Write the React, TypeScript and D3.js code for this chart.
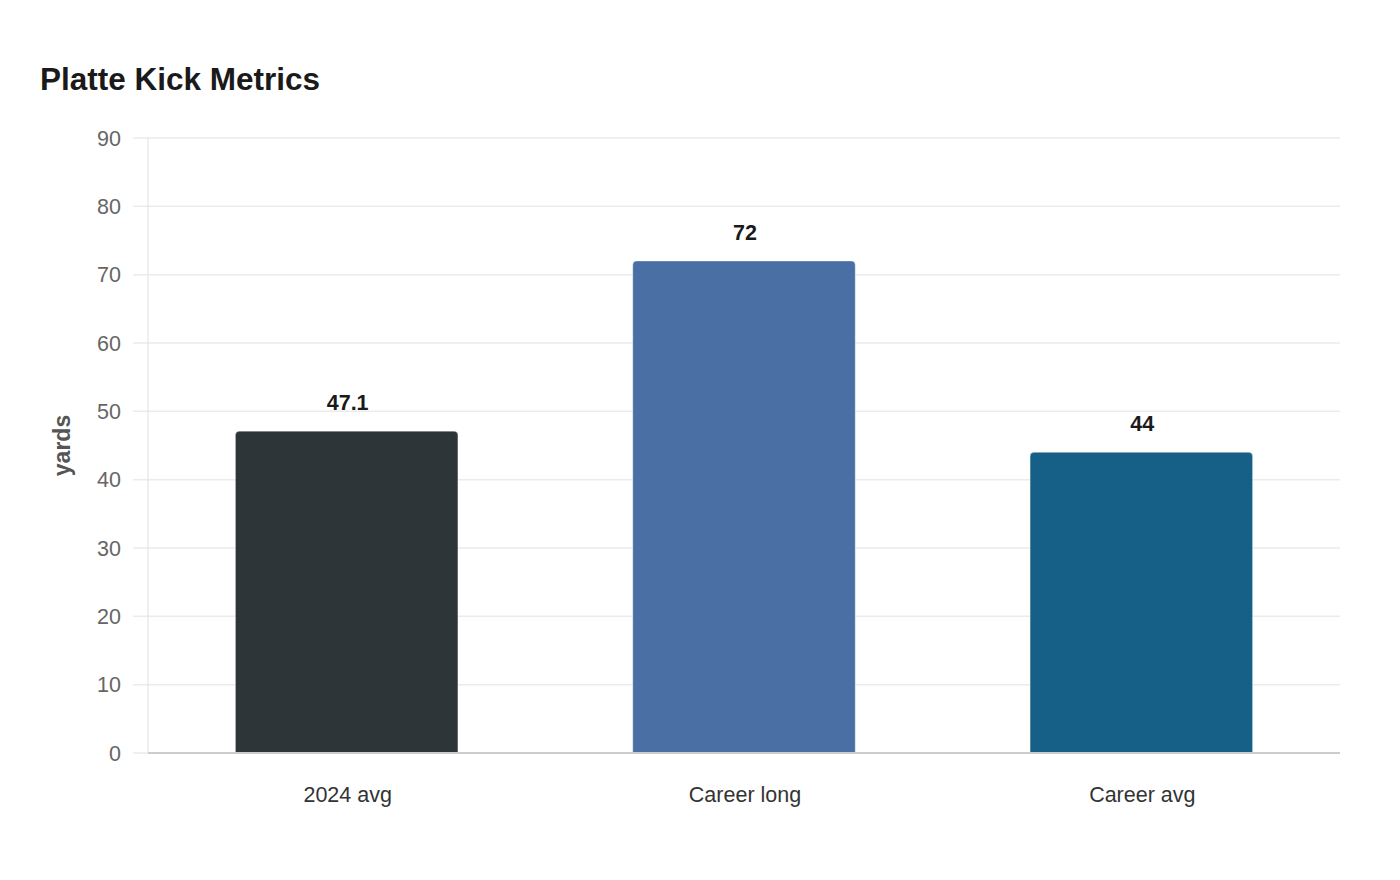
import React, { FC } from "react"
import { scaleBand, scaleLinear } from "d3"

const categories = ["2024 avg", "Career long", "Career avg"]
const values = [47.1, 72, 44]
const valueLabels = ["47.1", "72", "44"]
const barColors = ["#2e3538", "#4a6fa5", "#166087"]
const yTicks = [0, 10, 20, 30, 40, 50, 60, 70, 80, 90]

const width = 1400
const height = 880
const margins = { top: 138, right: 60, bottom: 127, left: 148 }
const boundsWidth = width - margins.left - margins.right
const boundsHeight = height - margins.top - margins.bottom
const font = "'Liberation Sans', Arial, Helvetica, sans-serif"

const App: FC = () => {
  const xScale = scaleBand<string>()
    .domain(categories)
    .range([0, boundsWidth])
    .paddingInner(0.44)
    .paddingOuter(0.22)

  const yScale = scaleLinear().domain([0, 90]).range([boundsHeight, 0])

  const r = 4

  const barPath = (x: number, y: number, w: number, h: number) =>
    `M${x},${y + h}V${y + r}Q${x},${y} ${x + r},${y}H${x + w - r}Q${x + w},${y} ${x + w},${y + r}V${y + h}Z`

  return (
    <svg
      width={width}
      height={height}
      style={{ position: "absolute", left: 0, top: 0, display: "block", fontFamily: font }}
    >
      <text x={40} y={90} fontSize={31.5} fontWeight="bold" fill="#1a1a1a">
        Platte Kick Metrics
      </text>
      <g transform={`translate(${margins.left},${margins.top})`}>
        {/* grid */}
        {yTicks.map((t) => (
          <g key={t} transform={`translate(0,${yScale(t)})`}>
            <line x1={-15} x2={boundsWidth} stroke="#ebebeb" strokeWidth={1.5} />
            <text
              x={-27}
              dy="0.35em"
              textAnchor="end"
              fontSize={21.5}
              fill="#666"
            >
              {t}
            </text>
          </g>
        ))}
        <line x1={0} x2={0} y1={0} y2={boundsHeight} stroke="#e0e0e0" strokeWidth={1} />

        {/* bars */}
        {categories.map((c, i) => {
          const x = xScale(c) ?? 0
          const y = yScale(values[i])
          const w = xScale.bandwidth()
          return (
            <g key={c}>
              <path
                d={barPath(x, y, w, boundsHeight - y)}
                fill={barColors[i]}
                stroke="rgba(255,255,255,0.35)"
                strokeWidth={1}
              />
              <text
                x={x + w / 2 + 1}
                y={y - 21.5}
                textAnchor="middle"
                fontSize={21.5}
                fontWeight="bold"
                fill="#1a1a1a"
              >
                {valueLabels[i]}
              </text>
              <text
                x={x + w / 2 + 1}
                y={boundsHeight + 49}
                textAnchor="middle"
                fontSize={21.5}
                fill="#333"
              >
                {c}
              </text>
            </g>
          )
        })}

        <line x1={0} x2={boundsWidth} y1={boundsHeight} y2={boundsHeight} stroke="#cccccc" strokeWidth={2} />

        <text
          transform={`translate(${-78},${boundsHeight / 2}) rotate(-90)`}
          textAnchor="middle"
          fontSize={23}
          fontWeight="bold"
          fill="#555"
        >
          yards
        </text>
      </g>
    </svg>
  )
}

export default App
